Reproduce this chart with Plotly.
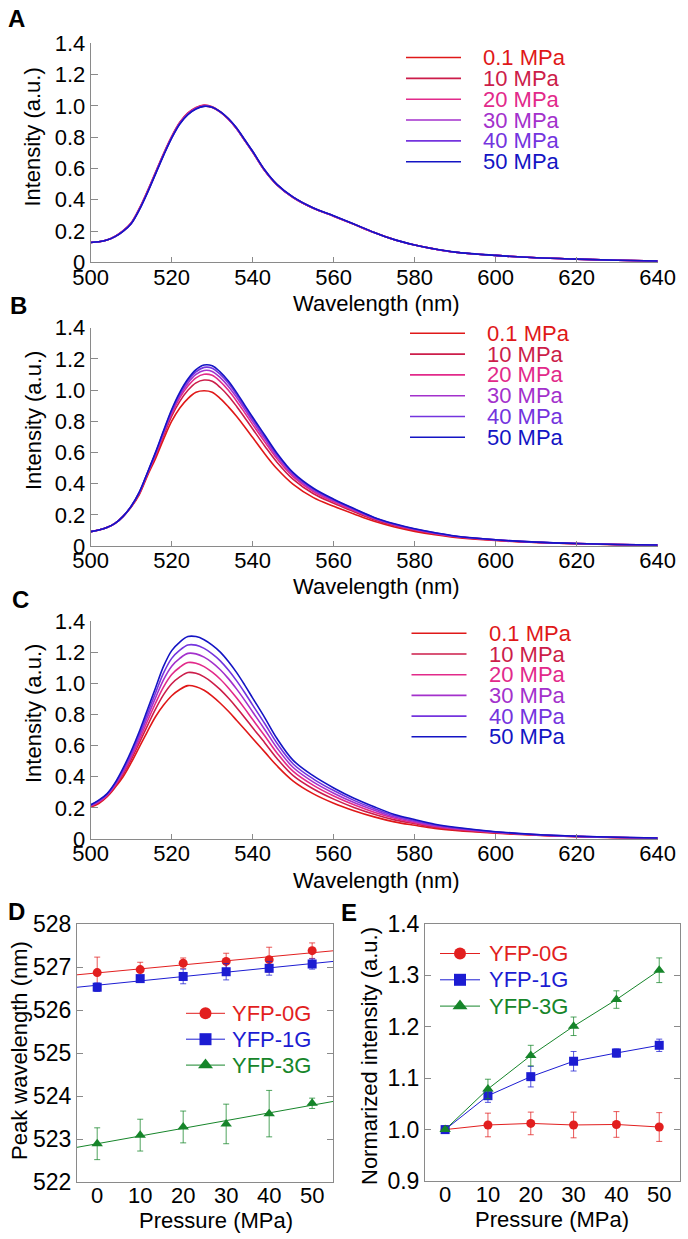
import plotly.graph_objects as go
import numpy as np

W, H = 688, 1239
FONT = "Liberation Sans, Arial, Helvetica, sans-serif"
AX = "#8a8a8a"

# ---------------- data: spectra (panels A-C) ----------------
wavelength = [500, 502, 504, 506, 508, 510, 512, 514, 516, 518, 520, 522, 524, 526, 528,
              530, 532, 534, 536, 538, 540, 543, 546, 550, 555, 560, 565, 570, 575, 580,
              585, 590, 600, 610, 620, 630, 640]

pressure_labels = ["0.1 MPa", "10 MPa", "20 MPa", "30 MPa", "40 MPa", "50 MPa"]
spec_colors = ["#e01818", "#cc1d4a", "#e22a8a", "#a331cc", "#7434de", "#1414c4"]

A_01 = [.127, .131, .142, .165, .200, .250, .340, .450, .570, .690, .800, .890, .950, .985, 1.000,
        .990, .960, .915, .855, .780, .705, .585, .495, .414, .345, .295, .243, .190, .144, .110,
        .084, .064, .044, .029, .020, .013, .008]
A_10 = [.127, .131, .142, .166, .202, .253, .344, .455, .575, .695, .805, .895, .955, .990, 1.005,
        .995, .962, .916, .856, .781, .705, .585, .495, .414, .345, .295, .243, .190, .144, .110,
        .084, .064, .044, .029, .020, .013, .008]
A_20 = [.127, .131, .142, .165, .201, .251, .342, .452, .572, .692, .802, .892, .952, .987, 1.003,
        .993, .961, .915, .855, .780, .705, .585, .495, .414, .345, .295, .243, .190, .144, .110,
        .084, .064, .044, .029, .020, .013, .008]
A_30 = [.127, .131, .142, .165, .200, .249, .338, .448, .568, .688, .798, .888, .948, .984, .999,
        .991, .961, .916, .856, .781, .706, .586, .496, .415, .346, .296, .244, .190, .144, .110,
        .084, .064, .044, .029, .020, .013, .008]
A_40 = [.127, .131, .142, .164, .199, .248, .336, .446, .566, .686, .796, .886, .946, .982, .998,
        .991, .962, .918, .858, .783, .708, .588, .497, .416, .347, .296, .244, .191, .145, .110,
        .084, .064, .044, .029, .020, .013, .008]
A_50 = [.127, .131, .142, .164, .198, .247, .335, .444, .564, .684, .794, .884, .944, .980, .997,
        .991, .963, .919, .860, .785, .710, .590, .498, .417, .347, .297, .245, .191, .145, .111,
        .085, .065, .044, .029, .020, .013, .008]

B_01 = [.092, .102, .118, .145, .190, .250, .330, .450, .560, .685, .800, .885, .945, .985, .995,
        .985, .945, .892, .832, .765, .695, .590, .495, .395, .310, .255, .205, .158, .122, .094,
        .072, .055, .035, .022, .014, .009, .005]
B_10 = [.092, .102, .118, .145, .190, .252, .336, .458, .577, .708, .832, .927, .998, 1.046, 1.064,
        1.056, 1.016, .962, .896, .824, .750, .640, .537, .427, .335, .274, .220, .169, .130, .101,
        .077, .059, .037, .023, .015, .009, .005]
B_20 = [.092, .102, .118, .145, .190, .253, .340, .463, .586, .720, .848, .949, 1.025, 1.078, 1.101,
        1.094, 1.054, .998, .930, .855, .778, .667, .559, .443, .348, .284, .227, .174, .135, .104,
        .080, .061, .038, .024, .015, .010, .006]
B_30 = [.092, .102, .118, .145, .190, .254, .342, .466, .592, .728, .859, .964, 1.044, 1.100, 1.125,
        1.119, 1.079, 1.023, .953, .876, .798, .685, .574, .454, .357, .291, .233, .178, .138, .107,
        .082, .062, .039, .024, .016, .010, .006]
B_40 = [.092, .102, .118, .145, .190, .255, .344, .468, .596, .735, .868, .976, 1.059, 1.117, 1.145,
        1.140, 1.100, 1.043, .971, .892, .813, .699, .586, .463, .365, .296, .237, .181, .140, .109,
        .084, .063, .040, .025, .016, .010, .006]
B_50 = [.092, .102, .118, .145, .190, .255, .345, .470, .600, .740, .875, .985, 1.070, 1.130, 1.160,
        1.155, 1.115, 1.058, .985, .905, .825, .710, .595, .470, .370, .300, .240, .183, .142, .110,
        .085, .064, .040, .025, .016, .010, .006]

C_01 = [.205, .228, .270, .330, .400, .490, .590, .690, .785, .860, .920, .960, .985, .978, .955,
        .918, .872, .820, .763, .705, .645, .558, .470, .372, .290, .230, .182, .142, .110, .088,
        .068, .055, .037, .024, .015, .009, .005]
C_10 = [.209, .234, .275, .338, .415, .510, .617, .727, .834, .927, .997, 1.041, 1.069, 1.064, 1.041,
        1.005, .959, .905, .845, .781, .714, .617, .517, .407, .321, .256, .203, .159, .123, .098,
        .075, .060, .040, .025, .016, .010, .005]
C_20 = [.212, .238, .279, .344, .426, .525, .637, .756, .872, .977, 1.056, 1.103, 1.133, 1.129, 1.107,
        1.071, 1.026, .970, .907, .839, .767, .661, .552, .434, .344, .276, .220, .172, .133, .105,
        .081, .064, .042, .026, .016, .010, .005]
C_30 = [.215, .242, .283, .350, .436, .539, .656, .782, .906, 1.024, 1.110, 1.160, 1.192, 1.189, 1.168,
        1.133, 1.087, 1.030, .964, .892, .816, .702, .585, .459, .365, .294, .234, .185, .141, .112,
        .086, .068, .044, .027, .017, .010, .006]
C_40 = [.217, .246, .287, .355, .446, .552, .673, .806, .938, 1.067, 1.160, 1.213, 1.246, 1.245, 1.224,
        1.189, 1.144, 1.085, 1.017, .941, .860, .740, .615, .482, .385, .311, .248, .196, .150, .119,
        .090, .072, .045, .028, .017, .011, .006]
C_50 = [.220, .250, .290, .360, .455, .565, .690, .830, .970, 1.110, 1.210, 1.265, 1.300, 1.300, 1.280,
        1.245, 1.200, 1.140, 1.070, .990, .905, .778, .645, .505, .405, .328, .262, .207, .158, .125,
        .095, .075, .047, .029, .018, .011, .006]

spec_xticks = [500, 520, 540, 560, 580, 600, 620, 640]
spec_yticks = [0, 0.2, 0.4, 0.6, 0.8, 1.0, 1.2, 1.4]
spec_yticktext = ["0", "0.2", "0.4", "0.6", "0.8", "1.0", "1.2", "1.4"]

# ---------------- data: panels D and E ----------------
pressure = [0, 10, 20, 30, 40, 50]
sample_names = ["YFP-0G", "YFP-1G", "YFP-3G"]
sample_colors = ["#e21f1f", "#1c1cd2", "#16852a"]
sample_symbols = ["circle", "square", "triangle-up"]

peak_0G = [526.87, 526.94, 527.09, 527.13, 527.17, 527.38]
peak_0G_err = [0.36, 0.17, 0.12, 0.19, 0.29, 0.18]
peak_1G = [526.53, 526.73, 526.78, 526.89, 526.97, 527.07]
peak_1G_err = [0.10, 0.07, 0.17, 0.19, 0.16, 0.12]
peak_3G = [522.89, 523.09, 523.28, 523.35, 523.59, 523.83]
peak_3G_err = [0.37, 0.37, 0.37, 0.46, 0.54, 0.12]

int_0G = [1.000, 1.009, 1.012, 1.009, 1.010, 1.005]
int_0G_err = [0.0, 0.023, 0.022, 0.025, 0.025, 0.028]
int_1G = [1.000, 1.066, 1.103, 1.133, 1.149, 1.164]
int_1G_err = [0.0, 0.013, 0.020, 0.019, 0.008, 0.012]
int_3G = [1.000, 1.079, 1.144, 1.201, 1.253, 1.310]
int_3G_err = [0.0, 0.019, 0.020, 0.018, 0.017, 0.024]

d_yticks = [522, 523, 524, 525, 526, 527, 528]
e_yticks = [0.9, 1.0, 1.1, 1.2, 1.3, 1.4]
de_xticks = [0, 10, 20, 30, 40, 50]

# ---------------- helpers ----------------
def fx(px):
    return px / W

def fy(py):
    return 1 - py / H

def rgba(hexc, a):
    hexc = hexc.lstrip("#")
    r, g, b = int(hexc[0:2], 16), int(hexc[2:4], 16), int(hexc[4:6], 16)
    return f"rgba({r},{g},{b},{a})"

fig = go.Figure()

spectra_panels = [
    ("x", "y", [A_01, A_10, A_20, A_30, A_40, A_50]),
    ("x2", "y2", [B_01, B_10, B_20, B_30, B_40, B_50]),
    ("x3", "y3", [C_01, C_10, C_20, C_30, C_40, C_50]),
]
for xa, ya, curves in spectra_panels:
    for vals, col, name in zip(curves, spec_colors, pressure_labels):
        fig.add_trace(go.Scatter(x=wavelength, y=vals, mode="lines", name=name,
                                 line=dict(color=col, width=1.6, shape="spline", smoothing=1.0),
                                 xaxis=xa, yaxis=ya, showlegend=False, hoverinfo="skip"))

# panel D: points with error bars + linear fit lines
xfit = np.array([-4.7, 54.85])
for vals, errs, col, sym, name in zip([peak_0G, peak_1G, peak_3G],
                                      [peak_0G_err, peak_1G_err, peak_3G_err],
                                      sample_colors, sample_symbols, sample_names):
    k, b = np.polyfit(pressure, vals, 1)
    fig.add_trace(go.Scatter(x=xfit, y=k * xfit + b, mode="lines", line=dict(color=col, width=1),
                             xaxis="x4", yaxis="y4", showlegend=False, hoverinfo="skip"))
    fig.add_trace(go.Scatter(x=pressure, y=vals, mode="markers", name=name,
                             marker=dict(symbol=sym, size=9 if sym != "triangle-up" else 10, color=col),
                             error_y=dict(type="data", array=errs, visible=True,
                                          color=rgba(col, 0.75), thickness=1, width=3),
                             xaxis="x4", yaxis="y4", showlegend=False))

# panel E: connected points with error bars
for vals, errs, col, sym, name in zip([int_0G, int_1G, int_3G],
                                      [int_0G_err, int_1G_err, int_3G_err],
                                      sample_colors, sample_symbols, sample_names):
    fig.add_trace(go.Scatter(x=pressure, y=vals, mode="lines+markers", name=name,
                             line=dict(color=col, width=1),
                             marker=dict(symbol=sym, size=9 if sym != "triangle-up" else 10, color=col),
                             error_y=dict(type="data", array=errs, visible=True,
                                          color=rgba(col, 0.75), thickness=1, width=3),
                             xaxis="x5", yaxis="y5", showlegend=False))

annotations = []

def text(px, py, s, size=22, color="black", xanchor="left", yanchor="middle", angle=0, bold=False):
    annotations.append(dict(x=fx(px), y=fy(py), xref="paper", yref="paper", text=(f"<b>{s}</b>" if bold else s),
                            showarrow=False, xanchor=xanchor, yanchor=yanchor, textangle=angle,
                            font=dict(family=FONT, size=size, color=color)))

# ---------- manual legends (overlay pixel axis x6/y6) ----------
spec_legends = [  # (first row y, row step, line x0, line x1, text x)
    (57.5, 20.85, 406, 461, 481),
    (333.3, 20.8, 410, 465, 485),
    (633.3, 20.7, 411.5, 466.5, 487),
]
for y0, step, lx0, lx1, tx in spec_legends:
    for i, (col, name) in enumerate(zip(spec_colors, pressure_labels)):
        yy = y0 + i * step
        fig.add_trace(go.Scatter(x=[lx0, lx1], y=[yy, yy], mode="lines", line=dict(color=col, width=1.6),
                                 xaxis="x6", yaxis="y6", showlegend=False, hoverinfo="skip"))
        text(tx, yy, name, size=22, color=col)

de_legends = [  # (first row y, row step, line x0, line x1, text x)
    (1013.3, 25.9, 186, 225, 230),
    (953.5, 26.3, 440, 480, 487),
]
for y0, step, lx0, lx1, tx in de_legends:
    for i, (col, sym, name) in enumerate(zip(sample_colors, sample_symbols, sample_names)):
        yy = y0 + i * step
        fig.add_trace(go.Scatter(x=[lx0, lx1], y=[yy, yy], mode="lines", line=dict(color=col, width=1),
                                 xaxis="x6", yaxis="y6", showlegend=False, hoverinfo="skip"))
        fig.add_trace(go.Scatter(x=[(lx0 + lx1) / 2], y=[yy], mode="markers",
                                 marker=dict(symbol=sym, size=12 if sym != "triangle-up" else 13, color=col),
                                 xaxis="x6", yaxis="y6", showlegend=False, hoverinfo="skip"))
        text(tx, yy, name, size=22, color=col)

# ---------- axis titles & panel letters ----------
for ytitle_c, xtitle_c, letter, (lx, ly) in [(137.6, 303.5, "A", (16.5, 18.5)),
                                               (421.0, 586.0, "B", (18, 305)),
                                               (714.0, 880.5, "C", (20, 600))]:
    text(33, ytitle_c, "Intensity (a.u.)", xanchor="center", angle=-90)
    text(376, xtitle_c, "Wavelength (nm)", xanchor="center")
    text(lx, ly, letter, size=24, xanchor="center", bold=True)

text(19, 1051, "Peak wavelength (nm)", xanchor="center", angle=-90)
text(216, 1220, "Pressure (MPa)", xanchor="center")
text(16, 911, "D", size=24, xanchor="center", bold=True)

text(369, 1056, "Normarized intensity (a.u.)", xanchor="center", angle=-90)
text(552, 1219.5, "Pressure (MPa)", xanchor="center")
text(349, 912, "E", size=24, xanchor="center", bold=True)

# ---------- axes ----------
tickfont = dict(family=FONT, size=22, color="black")

def spec_x(top, bottom, anchor):
    return dict(domain=[fx(90.7), fx(657.7)], range=[500, 640], anchor=anchor, automargin=False,
                showline=True, linecolor=AX, linewidth=1, mirror=False,
                ticks="inside", ticklen=5, tickcolor=AX, tickwidth=1, ticklabelstandoff=-5,
                tickvals=spec_xticks, tickfont=tickfont, showgrid=False, zeroline=False)

def spec_y(top, bottom, anchor):
    return dict(domain=[fy(bottom), fy(top)], range=[0, 1.4], anchor=anchor, automargin=False,
                showline=True, linecolor=AX, linewidth=1, mirror=False,
                ticks="inside", ticklen=7, tickcolor=AX, tickwidth=1,
                tickvals=spec_yticks, ticktext=spec_yticktext, tickfont=tickfont,
                showgrid=False, zeroline=False)

layout = dict(
    template="none",
    width=W, height=H, margin=dict(l=0, r=0, t=0, b=0, pad=0, autoexpand=False),
    paper_bgcolor="white", plot_bgcolor="rgba(0,0,0,0)",
    font=dict(family=FONT, size=22, color="black"),
    showlegend=False, annotations=annotations,
    xaxis=spec_x(43.3, 262.3, "y"), yaxis=spec_y(43.3, 262.3, "x"),
    xaxis2=spec_x(327.6, 546, "y2"), yaxis2=spec_y(327.6, 546, "x2"),
    xaxis3=spec_x(621, 839, "y3"), yaxis3=spec_y(621, 839, "x3"),
    xaxis4=dict(domain=[fx(77), fx(333)], range=[-4.7, 54.85], anchor="y4", automargin=False,
                showline=True, linecolor=AX, linewidth=1, mirror=True, ticks="", ticklabelstandoff=-6,
                tickvals=de_xticks, tickfont=tickfont, showgrid=False, zeroline=False),
    yaxis4=dict(domain=[fy(1182), fy(924)], range=[522, 528], anchor="x4", automargin=False,
                showline=True, linecolor=AX, linewidth=1, mirror="ticks", ticks="inside",
                ticklen=6, tickcolor=AX, tickvals=d_yticks, tickfont=dict(family=FONT, size=23, color="black"),
                showgrid=False, zeroline=False),
    xaxis5=dict(domain=[fx(425), fx(680)], range=[-4.7, 54.85], anchor="y5", automargin=False,
                showline=True, linecolor=AX, linewidth=1, mirror=True, ticks="", ticklabelstandoff=-6,
                tickvals=de_xticks, tickfont=tickfont, showgrid=False, zeroline=False),
    yaxis5=dict(domain=[fy(1181), fy(924)], range=[0.9, 1.4], anchor="x5", automargin=False,
                showline=True, linecolor=AX, linewidth=1, mirror="ticks", ticks="inside",
                ticklen=6, tickcolor=AX, tickvals=e_yticks, tickformat=".1f",
                tickfont=dict(family=FONT, size=23, color="black"),
                showgrid=False, zeroline=False),
    xaxis6=dict(domain=[0, 1], range=[0, W], anchor="y6", visible=False, fixedrange=True, automargin=False),
    yaxis6=dict(domain=[0, 1], range=[H, 0], anchor="x6", visible=False, fixedrange=True, automargin=False),
)
fig.update_layout(**layout)

fig.write_html("out.html", config={"displayModeBar": False},
               post_script="document.body.style.margin='0';document.body.style.overflow='hidden';")
